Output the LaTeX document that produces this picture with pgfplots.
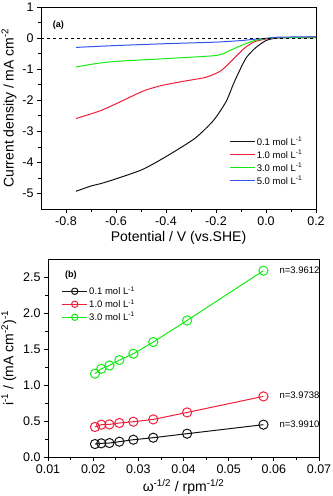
\documentclass[border=0pt]{standalone}
\usepackage{fontspec}
\setmainfont{Liberation Sans}
\usepackage{pgfplots}
\pgfplotsset{compat=1.18}
\definecolor{cblack}{RGB}{20,20,20}
\definecolor{cred}{RGB}{240,30,60}
\definecolor{cgreen}{RGB}{20,235,20}
\definecolor{cblue}{RGB}{50,85,235}
\pgfplotsset{
  panel/.style={
    scale only axis,
    anchor=south west,
    tick pos=left,
    tick align=outside,
    major tick length=4bp,
    minor tick length=2.5bp,
    minor x tick num=1,
    minor y tick num=1,
    axis line style={line width=0.9bp},
    every tick/.style={line width=0.7bp, black},
    /pgf/number format/assume math mode=true,
    tick label style={font=\fontsize{12.5bp}{14bp}\selectfont},
    label style={font=\fontsize{14bp}{16bp}\selectfont},
    legend style={draw=none, fill=none, font=\fontsize{9.5bp}{11bp}\selectfont,
      row sep=0.3bp, inner sep=0bp, nodes={inner sep=1.5bp}},
    legend cell align=left,
  }
}
\begin{document}
\begin{tikzpicture}
\useasboundingbox (0bp,0bp) rectangle (333bp,-496bp);
% panel (a)
\begin{axis}[panel,
  at={(41bp,-209bp)}, width=275bp, height=202bp,
  xmin=-0.9, xmax=0.2, ymin=-5.5, ymax=1,
  xtick={-0.8,-0.6,...,0.21}, ytick={-5,-4,...,1},
  xticklabel style={/pgf/number format/.cd, fixed, fixed zerofill, precision=1},
  xlabel={Potential / V (vs.SHE)},
  ylabel={Current density / mA cm\textsuperscript{-2}},
  ylabel style={yshift=-1bp},
  xlabel style={yshift=1bp},
  legend style={at={(0.684,0.365)}, anchor=north west},
  legend image code/.code={\draw[#1] (0bp,0bp) -- (25bp,0bp);},
]
\addplot[cblack, line width=1bp, smooth, tension=0.4] coordinates {
 (-0.76,-4.93) (-0.70,-4.76) (-0.66,-4.68) (-0.60,-4.53) (-0.50,-4.25) (-0.44,-4.00)
 (-0.36,-3.62) (-0.28,-3.20) (-0.21,-2.65) (-0.16,-2.05) (-0.13,-1.47) (-0.10,-0.95)
 (-0.077,-0.61) (-0.04,-0.30) (0.00,-0.08) (0.04,0.00) (0.10,0.02) (0.20,0.03)};
\addplot[cred, line width=1bp, smooth, tension=0.4] coordinates {
 (-0.76,-2.59) (-0.66,-2.33) (-0.57,-2.00) (-0.49,-1.70) (-0.42,-1.53) (-0.33,-1.39)
 (-0.24,-1.26) (-0.18,-1.05) (-0.13,-0.67) (-0.09,-0.35) (-0.05,-0.13) (0.00,-0.03)
 (0.05,0.01) (0.20,0.02)};
\addplot[cgreen, line width=1bp, smooth, tension=0.4] coordinates {
 (-0.76,-0.93) (-0.68,-0.82) (-0.60,-0.75) (-0.40,-0.66) (-0.20,-0.56) (-0.15,-0.42)
 (-0.10,-0.24) (-0.05,-0.09) (0.00,-0.01) (0.05,0.01) (0.20,0.01)};
\addplot[cblue, line width=1bp, smooth, tension=0.4] coordinates {
 (-0.76,-0.30) (-0.60,-0.24) (-0.40,-0.18) (-0.20,-0.13) (-0.10,-0.08) (-0.05,-0.04)
 (0.00,-0.01) (0.05,0.03) (0.20,0.04)};
\legend{0.1 mol L\textsuperscript{-1},1.0 mol L\textsuperscript{-1},3.0 mol L\textsuperscript{-1},5.0 mol L\textsuperscript{-1}}
\addplot[black, dashed, line width=0.9bp, forget plot] coordinates {(-0.9,0) (0.2,0)};
\node[font=\fontsize{9bp}{10bp}\selectfont\bfseries, anchor=west] at (axis description cs:0.03,0.91) {(a)};
\end{axis}
% panel (b)
\begin{axis}[panel,
  at={(48bp,-457bp)}, width=271bp, height=198bp,
  xmin=0.01, xmax=0.07, ymin=0, ymax=2.75,
  xtick={0.01,0.02,...,0.071}, ytick={0,0.5,...,2.6},
  xticklabel style={/pgf/number format/.cd, fixed, fixed zerofill, precision=2},
  yticklabel style={/pgf/number format/.cd, fixed, fixed zerofill, precision=1},
  scaled x ticks=false,
  xlabel={ω\textsuperscript{-1/2} / rpm\textsuperscript{-1/2}},
  ylabel={i\textsuperscript{-1} / (mA cm\textsuperscript{-2})\textsuperscript{-1}},
  xlabel style={yshift=1bp},
  legend style={at={(0.05,0.87)}, anchor=north west},
  legend image code/.code={\draw[#1, mark size=3.2bp, mark repeat=2, mark phase=2] plot coordinates {(0bp,0bp) (12.5bp,0bp) (25bp,0bp)};},
  every axis plot/.append style={line width=1bp, mark=o, mark size=4.6bp, mark options={fill=white, line width=1bp}},
]
\addplot[cblack] coordinates {
 (0.0204,0.180) (0.0218,0.190) (0.0236,0.194) (0.0258,0.213) (0.0289,0.240)
 (0.0333,0.268) (0.0408,0.324) (0.0577,0.449)};
\addplot[cred] coordinates {
 (0.0204,0.417) (0.0218,0.449) (0.0236,0.453) (0.0258,0.472) (0.0289,0.490)
 (0.0333,0.522) (0.0408,0.619) (0.0577,0.842)};
\addplot[cgreen] coordinates {
 (0.0204,1.157) (0.0218,1.225) (0.0236,1.271) (0.0258,1.346) (0.0289,1.434)
 (0.0333,1.597) (0.0408,1.897) (0.0577,2.588)};
\legend{0.1 mol L\textsuperscript{-1},1.0 mol L\textsuperscript{-1},3.0 mol L\textsuperscript{-1}}
\node[font=\fontsize{9bp}{10bp}\selectfont\bfseries, anchor=west] at (axis description cs:0.05,0.92) {(b)};
\node[font=\fontsize{9.5bp}{11bp}\selectfont, anchor=west] at (axis cs:0.0605,2.588) {n=3.9612};
\node[font=\fontsize{9.5bp}{11bp}\selectfont, anchor=west] at (axis cs:0.0605,0.86) {n=3.9738};
\node[font=\fontsize{9.5bp}{11bp}\selectfont, anchor=west] at (axis cs:0.0605,0.45) {n=3.9910};
\end{axis}
\end{tikzpicture}
\end{document}
